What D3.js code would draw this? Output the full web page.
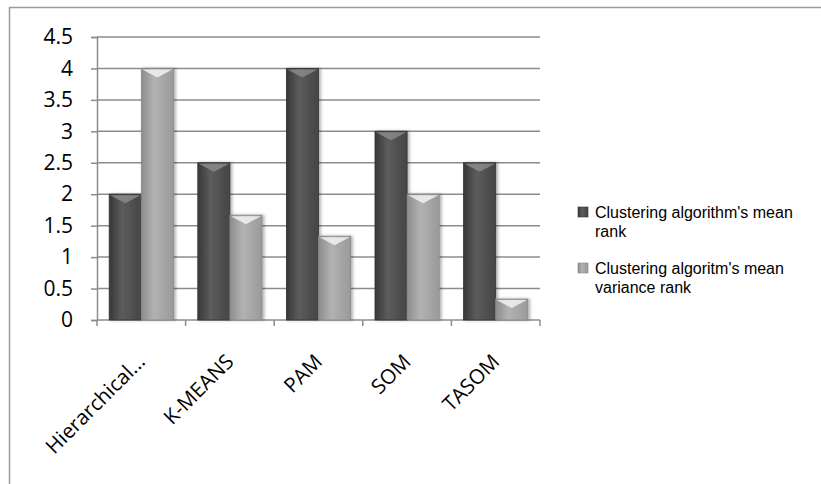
<!DOCTYPE html>
<html>
<head>
<meta charset="utf-8">
<script src="https://cdn.jsdelivr.net/npm/d3@7"></script>
<style>
  body { margin: 0; background: #fff; }
  svg text { font-family: "Open Sans", Lato, sans-serif; fill: #000; }
</style>
</head>
<body>
<div id="chart"></div>
<script>
const categories = ["Hierarchical...", "K-MEANS", "PAM", "SOM", "TASOM"]
const seriesNames = ["Clustering algorithm's mean rank", "Clustering algoritm's mean variance rank"]
const meanRank = [2, 2.5, 4, 3, 2.5]
const varianceRank = [4, 1.667, 1.333, 2, 0.333]
const yTicks = [0, 0.5, 1, 1.5, 2, 2.5, 3, 3.5, 4, 4.5]
const legendLines = [["Clustering algorithm's mean", "rank"], ["Clustering algoritm's mean", "variance rank"]]

const width = 821, height = 484
const margin = { top: 37, left: 97, right: 281, bottom: 164 }
const chartW = width - margin.left - margin.right
const chartH = height - margin.top - margin.bottom

let svg = d3.select("#chart").append("svg")
    .attr("width", width)
    .attr("height", height)

// outer frame
svg.append("rect")
    .attr("x", 9.5).attr("y", 7.5)
    .attr("width", width).attr("height", height)
    .attr("fill", "none").attr("stroke", "#9a9a9a").attr("stroke-width", 1.5)

let defs = svg.append("defs")
let colors = [["#383838", "#5c5c5c", "#454545"], ["#8c8c8c", "#b2b2b2", "#9a9a9a"]]
colors.forEach((c, i) => {
    let g = defs.append("linearGradient").attr("id", "grad" + i)
        .attr("x1", "0%").attr("x2", "100%").attr("y1", "0%").attr("y2", "0%")
    g.append("stop").attr("offset", "0%").attr("stop-color", c[0])
    g.append("stop").attr("offset", "40%").attr("stop-color", c[1])
    g.append("stop").attr("offset", "100%").attr("stop-color", c[2])
})
let shadow = defs.append("filter").attr("id", "shadow").attr("x", "-30%").attr("width", "160%")
shadow.append("feDropShadow").attr("dx", 2).attr("dy", 0).attr("stdDeviation", 1.5)
    .attr("flood-color", "#000").attr("flood-opacity", 0.3)

let chart = svg.append("g").attr("transform", `translate(${margin.left},${margin.top})`)

let yScale = d3.scaleLinear().domain([0, 4.5]).range([chartH, 0])
let xScale = d3.scaleBand().domain(categories).range([0, chartW])
let inner = d3.scaleBand().domain([0, 1]).range([0, xScale.bandwidth()]).paddingOuter(0.38).paddingInner(0)

// gridlines
chart.append("g").selectAll("line")
    .data(yTicks.filter(d => d > 0))
    .join("line")
    .attr("x1", 0).attr("x2", chartW)
    .attr("y1", d => yScale(d)).attr("y2", d => yScale(d))
    .attr("stroke", "#8c8c8c").attr("stroke-width", 1.5)

// y axis
let yAxis = d3.axisLeft(yScale).tickValues(yTicks).tickSize(6).tickPadding(18).tickFormat(d3.format(""))
let yAxisG = chart.append("g").call(yAxis)
yAxisG.attr("font-size", 21).attr("font-family", null)
yAxisG.select(".domain").attr("stroke", "#8c8c8c").attr("stroke-width", 1.5)
yAxisG.selectAll(".tick line").attr("stroke", "#8c8c8c").attr("stroke-width", 1.5)
yAxisG.selectAll(".tick text").attr("fill", "#000")

// x axis with ticks at category boundaries
chart.append("line")
    .attr("x1", 0).attr("x2", chartW).attr("y1", chartH).attr("y2", chartH)
    .attr("stroke", "#8c8c8c").attr("stroke-width", 1.5)
let bounds = categories.map(c => xScale(c)).concat([chartW])
chart.append("g").selectAll("line")
    .data(bounds)
    .join("line")
    .attr("x1", d => d).attr("x2", d => d)
    .attr("y1", chartH).attr("y2", chartH + 6)
    .attr("stroke", "#8c8c8c").attr("stroke-width", 1.5)

let xLabels = chart.append("g").selectAll("text")
    .data(categories)
    .join("text")
    .attr("text-anchor", "end")
    .attr("font-size", "20.5px")
    .text(d => d)
// rotated labels: end at category centre, pushed up along the baseline if they run off the left
xLabels.attr("transform", function(d) {
    let len = this.getComputedTextLength()
    let ex = xScale(d) + xScale.bandwidth() / 2 + 5, ey = chartH + 43
    let startX = margin.left + ex - len * Math.SQRT1_2
    let shift = Math.max(0, 47 - startX)
    return `translate(${ex + shift},${ey - shift}) rotate(-45)`
})

// bars
let series = [meanRank, varianceRank]
series.forEach((vals, si) => {
    let g = chart.append("g").attr("class", "series")
    let bars = g.selectAll("g")
        .data(vals.map((v, i) => ({ cat: categories[i], v: v })))
        .join("g")
    bars.append("rect")
        .attr("x", d => xScale(d.cat) + inner(si))
        .attr("y", d => yScale(d.v))
        .attr("width", inner.bandwidth())
        .attr("height", d => chartH - yScale(d.v))
        .attr("fill", `url(#grad${si})`)
        .attr("stroke", si == 0 ? "#333" : "#888")
        .attr("stroke-width", 0.8)
        .attr("filter", "url(#shadow)")
    // bevel chevron at the top
    bars.append("path")
        .attr("d", d => {
            let x0 = xScale(d.cat) + inner(si), w = inner.bandwidth(), y0 = yScale(d.v)
            return `M${x0 + 1},${y0 + 1} L${x0 + w - 1},${y0 + 1} L${x0 + w / 2},${y0 + 9} Z`
        })
        .attr("fill", si == 0 ? "#8a8a8a" : "#f2f2f2")
        .attr("opacity", 0.85)
})

// legend
let legend = svg.append("g").attr("transform", "translate(578,0)")
let legendY = [212, 268]
legendLines.forEach((lines, i) => {
    let lg = legend.append("g").attr("transform", `translate(0,${legendY[i]})`)
    lg.append("rect").attr("x", 0).attr("y", -5).attr("width", 10).attr("height", 10)
        .attr("fill", `url(#grad${i})`).attr("stroke", i == 0 ? "#333" : "#888").attr("stroke-width", 0.6)
    lg.append("text")
        .style("font-family", "'Liberation Sans', Arial, sans-serif")
        .attr("font-size", "16px")
        .selectAll("tspan").data(lines).join("tspan")
        .attr("x", 17).attr("y", (d, j) => j * 19)
        .attr("dy", "0.35em")
        .text(d => d)
})
</script>
</body>
</html>
